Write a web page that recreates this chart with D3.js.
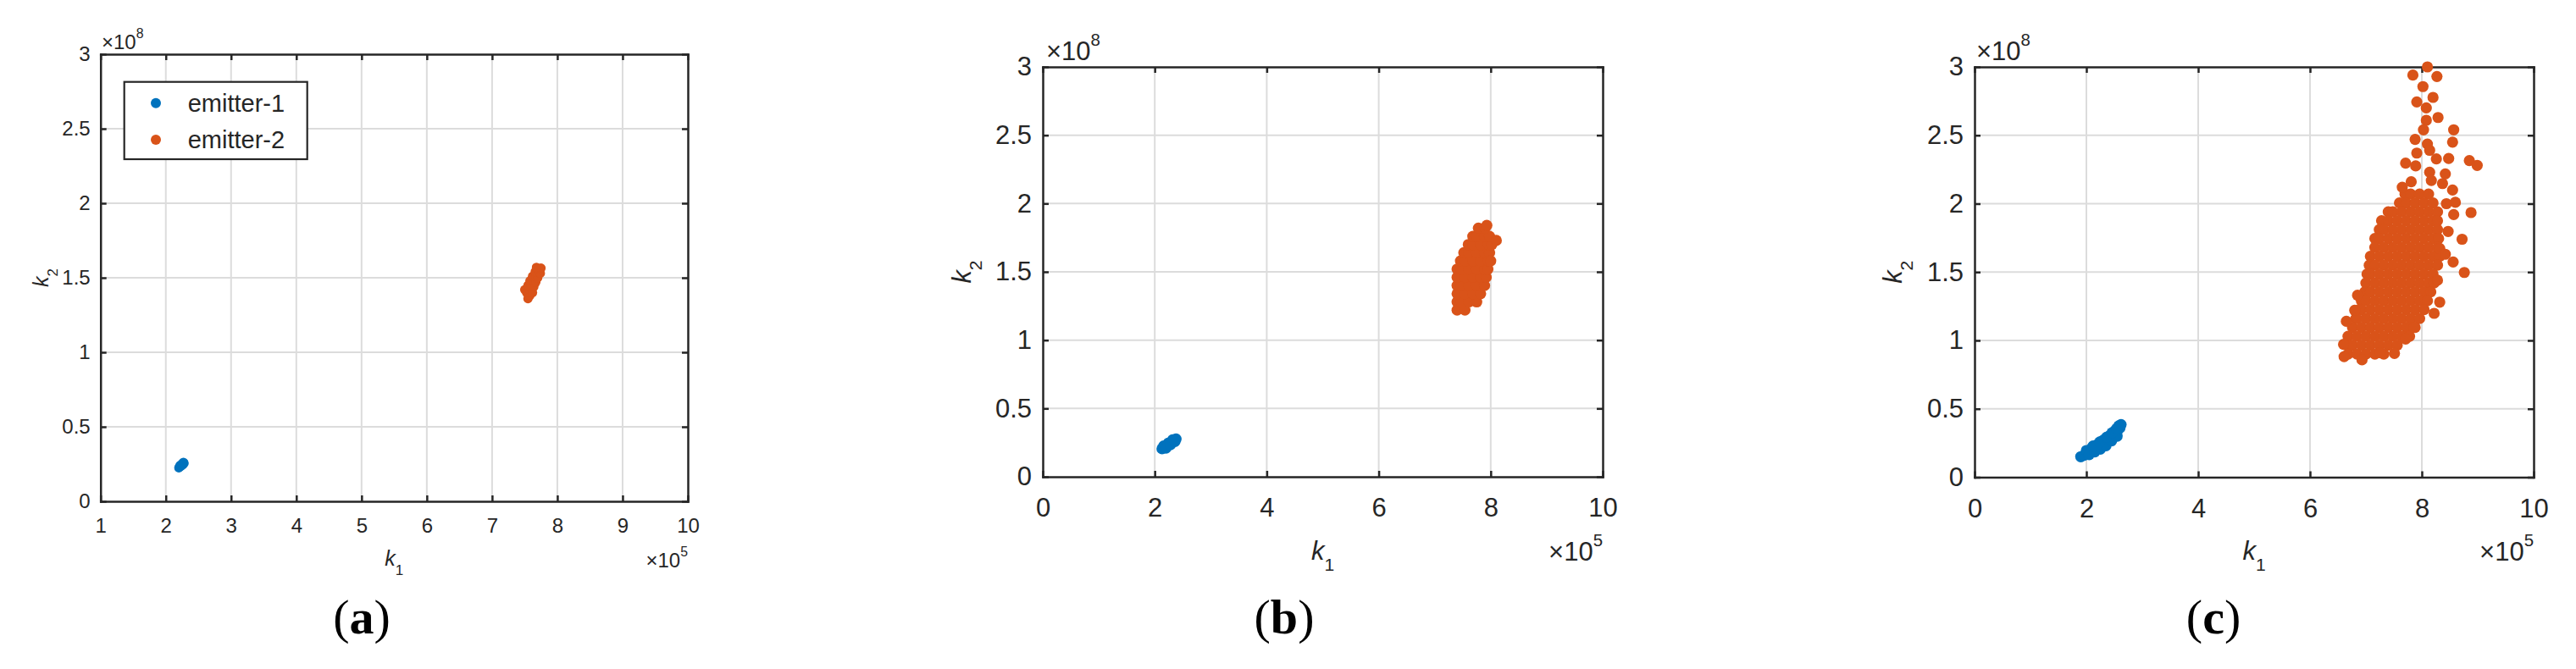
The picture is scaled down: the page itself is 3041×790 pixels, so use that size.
<!DOCTYPE html>
<html><head><meta charset="utf-8">
<script src="https://cdn.jsdelivr.net/npm/d3@7"></script>
<style>body{margin:0;background:#fff}</style>
</head><body>
<svg id="c" width="3041" height="790" xmlns="http://www.w3.org/2000/svg"></svg>
<script>
// ---------- data (x in 1e5, y in 1e8) ----------
const xTicksA = [1,2,3,4,5,6,7,8,9,10];
const xTickLabelsA = ["1","2","3","4","5","6","7","8","9","10"];
const xTicksBC = [0,2,4,6,8,10];
const xTickLabelsBC = ["0","2","4","6","8","10"];
const yTicks = [0,0.5,1,1.5,2,2.5,3];
const yTickLabels = ["0","0.5","1","1.5","2","2.5","3"];
const seriesNames = ["emitter-1","emitter-2"];
const seriesColors = ["#0072BD","#D95319"];
const panelLetters = ["a","b","c"];

const a_e1 = [[2.20,0.225],[2.23,0.235],[2.26,0.245],[2.28,0.255],[2.25,0.252],[2.22,0.242],[2.27,0.262],[2.21,0.232]];
const a_e2 = [[7.55,1.36],[7.58,1.38],[7.53,1.40],[7.50,1.42],[7.57,1.42],[7.62,1.40],[7.55,1.45],[7.60,1.45],[7.64,1.44],[7.58,1.48],[7.63,1.48],[7.67,1.47],[7.62,1.51],[7.67,1.51],[7.70,1.50],[7.66,1.54],[7.71,1.54],[7.74,1.53],[7.70,1.56],[7.75,1.565],[7.68,1.57]];

const b_e1 = [[2.13,0.205],[2.18,0.215],[2.22,0.23],[2.26,0.24],[2.30,0.252],[2.34,0.265],[2.38,0.277],[2.16,0.225],[2.24,0.245],[2.32,0.27],[2.20,0.21],[2.28,0.235],[2.36,0.258]];
const b_e2_rows = [
 [1.22,[7.40,7.54]],
 [1.28,[7.40,7.47,7.61,7.75]],
 [1.34,[7.40,7.54,7.68,7.82]],
 [1.40,[7.40,7.47,7.61,7.75,7.89]],
 [1.46,[7.40,7.54,7.68,7.82,7.92]],
 [1.52,[7.40,7.47,7.61,7.75,7.89,7.95]],
 [1.58,[7.46,7.54,7.68,7.82,7.96]],
 [1.64,[7.52,7.61,7.75,7.89,7.98]],
 [1.70,[7.60,7.68,7.82,7.96,8.02]],
 [1.76,[7.68,7.75,7.89,7.98]],
 [1.82,[7.78,7.90]]
];
const b_e2_extra = [[8.10,1.73],[7.93,1.84],[8.00,1.58]];

const c_e1 = [[1.90,0.150],[1.96,0.160],[2.02,0.175],[2.08,0.185],[2.14,0.200],[2.20,0.215],[2.26,0.235],[2.32,0.255],[2.38,0.275],[2.44,0.295],[2.50,0.315],[2.55,0.335],[2.60,0.360],[2.62,0.385],
 [2.00,0.195],[2.10,0.215],[2.20,0.240],[2.30,0.270],[2.40,0.300],[2.50,0.335],[2.58,0.375],
 [2.05,0.165],[2.15,0.185],[2.25,0.205],[2.35,0.230],[2.45,0.265],[2.55,0.300],
 [2.12,0.228],[2.24,0.258],[2.36,0.292],[2.46,0.325],[2.54,0.355]];
const c_e2_rows = [
 [2.07,[7.70,7.80,7.96,8.12]],
 [2.005,[7.60,7.72,7.88,8.04,8.20]],
 [1.94,[7.40,7.48,7.64,7.80,7.96,8.12,8.28]],
 [1.875,[7.28,7.40,7.56,7.72,7.88,8.04,8.20,8.28]],
 [1.81,[7.24,7.32,7.48,7.64,7.80,7.96,8.12,8.28]],
 [1.745,[7.16,7.24,7.40,7.56,7.72,7.88,8.04,8.20,8.30]],
 [1.68,[7.16,7.32,7.48,7.64,7.80,7.96,8.12,8.28]],
 [1.615,[7.08,7.24,7.40,7.56,7.72,7.88,8.04,8.20,8.32]],
 [1.55,[7.06,7.16,7.32,7.48,7.64,7.80,7.96,8.12,8.28]],
 [1.485,[7.02,7.08,7.24,7.40,7.56,7.72,7.88,8.04,8.20]],
 [1.42,[7.00,7.16,7.32,7.48,7.64,7.80,7.96,8.12,8.22]],
 [1.355,[6.98,7.08,7.24,7.40,7.56,7.72,7.88,8.04,8.16]],
 [1.29,[6.92,7.00,7.16,7.32,7.48,7.64,7.80,7.96,8.10]],
 [1.225,[6.88,6.92,7.08,7.24,7.40,7.56,7.72,7.88,8.04]],
 [1.16,[6.82,6.84,7.00,7.16,7.32,7.48,7.64,7.80,7.96]],
 [1.095,[6.76,6.92,7.08,7.24,7.40,7.56,7.72,7.88]],
 [1.03,[6.68,6.84,7.00,7.16,7.32,7.48,7.64,7.78]],
 [0.965,[6.68,6.76,6.92,7.08,7.24,7.40,7.56]],
 [0.90,[6.68,6.84,7.00,7.16,7.32]]
];
const c_e2_outliers = [[8.10,3.00],[7.84,2.94],[8.27,2.93],[8.02,2.856],[8.20,2.777],[7.91,2.744],[8.08,2.70],[8.29,2.63],[8.08,2.61],[8.03,2.54],[8.57,2.54],[7.88,2.47],[8.55,2.45],[8.10,2.436],[8.14,2.39],[7.91,2.37],[8.26,2.327],[8.48,2.33],[8.85,2.315],[8.99,2.28],[7.71,2.296],[7.89,2.276],[8.14,2.23],[8.42,2.218],[7.65,2.12],[7.81,2.16],[8.17,2.17],[8.37,2.147],[8.55,2.10],[8.60,2.01],[8.44,2.00],[8.88,1.935],[8.57,1.92],[8.47,1.797],[8.72,1.74],[8.76,1.497],[8.56,1.574],[8.32,1.28],[8.22,1.198],[6.65,1.14],[6.60,0.971],[6.61,0.882],[7.51,0.905],[7.71,1.01],[7.86,1.095],[6.85,1.33],[6.80,1.22],[6.93,0.858],[7.26,0.91],[8.32,1.673],[8.42,1.63],[8.28,1.44]];

// ---------- layout ----------
const layout = [
 {L:118.7,R:812,T:64,B:592,xdom:[1,10],xt:xTicksA,xl:xTickLabelsA,fs:24,r:5.5,tl:7,xpad:20,ypad:12,
  k1y:668,k2x:57,e8x:120,e8y:58,e5y:670,capx:427,kfs:25},
 {L:1231,R:1892,T:79,B:563,xdom:[0,10],xt:xTicksBC,xl:xTickLabelsBC,fs:31,r:6.6,tl:7,xpad:25,ypad:13,
  k1y:661,k2x:1146,e8x:1235,e8y:71,e5y:662,capx:1516,kfs:31},
 {L:2331,R:2991,T:79,B:563.5,xdom:[0,10],xt:xTicksBC,xl:xTickLabelsBC,fs:31,r:6.6,tl:7,xpad:25,ypad:13,
  k1y:661,k2x:2245,e8x:2333,e8y:71,e5y:662,capx:2613,kfs:31}
];
const flatRows = rows => rows.flatMap(([yv,xs]) => xs.map(xv => [xv,yv]));
const panelData = [
 [a_e1, a_e2],
 [b_e1, flatRows(b_e2_rows).concat(b_e2_extra)],
 [c_e1, flatRows(c_e2_rows).concat(c_e2_outliers)]
];

const svg = d3.select("#c");
const FONT = "'Liberation Sans', Arial, Helvetica, sans-serif";
const INK = "#262626";

layout.forEach((cfg, pi) => {
  const g = svg.append("g");
  const x = d3.scaleLinear().domain(cfg.xdom).range([cfg.L, cfg.R]);
  const y = d3.scaleLinear().domain([0,3]).range([cfg.B, cfg.T]);

  // grid
  g.append("g").selectAll("line").data(cfg.xt.filter(v => v > cfg.xdom[0] && v < cfg.xdom[1])).join("line")
    .attr("x1", d => x(d)).attr("x2", d => x(d)).attr("y1", cfg.T).attr("y2", cfg.B)
    .attr("stroke", "#dcdcdc").attr("stroke-width", 2);
  g.append("g").selectAll("line").data(yTicks.filter(v => v > 0 && v < 3)).join("line")
    .attr("y1", d => y(d)).attr("y2", d => y(d)).attr("x1", cfg.L).attr("x2", cfg.R)
    .attr("stroke", "#dcdcdc").attr("stroke-width", 2);

  const styleAxis = sel => {
    sel.select(".domain").attr("stroke", INK).attr("stroke-width", 2.5);
    sel.selectAll(".tick line").attr("stroke", INK).attr("stroke-width", 2.5);
    sel.selectAll("text").attr("fill", INK).style("font-family", FONT).style("font-size", cfg.fs + "px");
  };
  g.append("g").attr("transform", `translate(0,${cfg.B})`)
    .call(d3.axisBottom(x).tickValues(cfg.xt).tickFormat((d,i) => cfg.xl[i]).tickSizeInner(-cfg.tl).tickSizeOuter(0).tickPadding(cfg.xpad))
    .call(styleAxis);
  g.append("g").attr("transform", `translate(0,${cfg.T})`)
    .call(d3.axisTop(x).tickValues(cfg.xt).tickFormat("").tickSizeInner(-cfg.tl).tickSizeOuter(0))
    .call(styleAxis);
  g.append("g").attr("transform", `translate(${cfg.L},0)`)
    .call(d3.axisLeft(y).tickValues(yTicks).tickFormat((d,i) => yTickLabels[i]).tickSizeInner(-cfg.tl).tickSizeOuter(0).tickPadding(cfg.ypad))
    .call(styleAxis);
  g.append("g").attr("transform", `translate(${cfg.R},0)`)
    .call(d3.axisRight(y).tickValues(yTicks).tickFormat("").tickSizeInner(-cfg.tl).tickSizeOuter(0))
    .call(styleAxis);
  g.selectAll(".domain").attr("stroke-linecap", "square");

  // points
  panelData[pi].forEach((pts, si) => {
    g.append("g").selectAll("circle").data(pts).join("circle")
      .attr("cx", d => x(d[0])).attr("cy", d => y(d[1])).attr("r", cfg.r)
      .attr("fill", seriesColors[si]);
  });

  // exponent labels
  const e8 = g.append("text").attr("x", cfg.e8x).attr("y", cfg.e8y).attr("fill", INK)
    .style("font-family", FONT).style("font-size", cfg.fs + "px");
  e8.append("tspan").text("\u00d710");
  e8.append("tspan").attr("dy", -0.55*cfg.fs).style("font-size", (0.66*cfg.fs) + "px").text("8");
  const e5 = g.append("text").attr("x", cfg.R).attr("y", cfg.e5y).attr("fill", INK).attr("text-anchor", "end")
    .style("font-family", FONT).style("font-size", cfg.fs + "px");
  e5.append("tspan").text("\u00d710");
  e5.append("tspan").attr("dy", -0.55*cfg.fs).style("font-size", (0.66*cfg.fs) + "px").text("5");

  // axis labels
  const cx = (cfg.L + cfg.R) / 2, cy = (cfg.T + cfg.B) / 2;
  const k1 = g.append("text").attr("x", cx).attr("y", cfg.k1y).attr("text-anchor", "middle").attr("fill", INK)
    .style("font-family", FONT).style("font-size", cfg.kfs + "px");
  k1.append("tspan").style("font-style", "italic").text("k");
  k1.append("tspan").attr("dy", 0.42*cfg.kfs).style("font-size", (0.68*cfg.kfs) + "px").text("1");
  const k2 = g.append("text").attr("transform", `translate(${cfg.k2x},${cy}) rotate(-90)`).attr("text-anchor", "middle").attr("fill", INK)
    .style("font-family", FONT).style("font-size", cfg.kfs + "px");
  k2.append("tspan").style("font-style", "italic").text("k");
  k2.append("tspan").attr("dy", 0.42*cfg.kfs).style("font-size", (0.68*cfg.kfs) + "px").text("2");

  // caption
  const cap = svg.append("text").attr("x", cfg.capx).attr("y", 748).attr("text-anchor", "middle").attr("fill", "#000")
    .style("font-family", "'Palatino Linotype','Book Antiqua','Liberation Serif','DejaVu Serif',serif").style("font-size", "58px");
  cap.append("tspan").text("(");
  cap.append("tspan").style("font-weight", "bold").text(panelLetters[pi]);
  cap.append("tspan").text(")");

  // legend (panel a only)
  if (pi === 0) {
    const lg = g.append("g");
    lg.append("rect").attr("x", 146.7).attr("y", 96.7).attr("width", 216).attr("height", 91.3)
      .attr("fill", "#fff").attr("stroke", INK).attr("stroke-width", 2.2);
    seriesNames.forEach((nm, si) => {
      const yy = 121.7 + si * 43.3;
      lg.append("circle").attr("cx", 184).attr("cy", yy).attr("r", 6).attr("fill", seriesColors[si]);
      lg.append("text").attr("x", 221.7).attr("y", yy).attr("dy", "0.35em").attr("fill", INK)
        .style("font-family", FONT).style("font-size", "29px").text(nm);
    });
  }
});
</script>
</body></html>
